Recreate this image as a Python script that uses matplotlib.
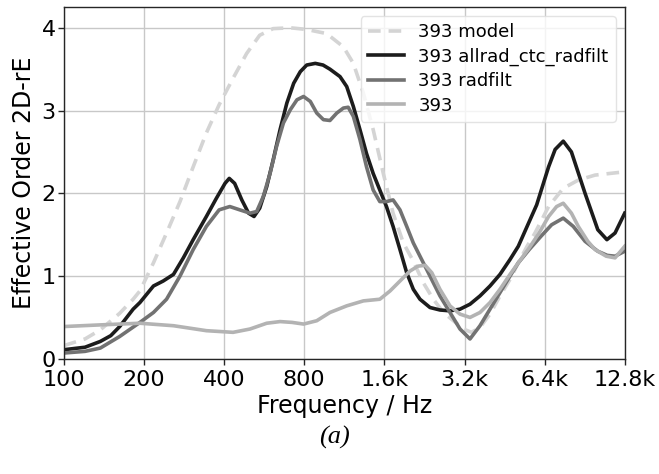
import numpy as np
import matplotlib.pyplot as plt
from matplotlib.ticker import FixedLocator, NullLocator

# values (frequency in Hz, effective order)
model_f = [100, 120, 137, 162, 182, 193, 217, 243, 273, 306, 343, 383, 432, 486,
           544, 611, 709, 817, 971, 1122, 1223, 1334, 1452, 1585, 1725, 1885, 2055,
           2240, 2443, 2666, 2907, 3170, 3400, 3659, 3990, 4350, 4744, 5097, 5500,
           5888, 6624, 7520, 8565, 9900, 12800]
model_v = [0.16, 0.24, 0.35, 0.55, 0.72, 0.82, 1.16, 1.52, 1.90, 2.32, 2.73, 3.07,
           3.39, 3.69, 3.91, 3.99, 4.00, 3.98, 3.93, 3.77, 3.57, 3.21, 2.77, 2.24,
           1.76, 1.40, 1.18, 0.92, 0.72, 0.56, 0.46, 0.36, 0.32, 0.38, 0.54, 0.76,
           0.96, 1.16, 1.36, 1.52, 1.84, 2.06, 2.16, 2.22, 2.26]

ctc_f = [100, 120, 137, 150, 162, 182, 193, 217, 236, 258, 281, 306, 343, 374, 403,
         418, 438, 466, 494, 518, 544, 578, 611, 649, 688, 730, 773, 817, 880, 941,
         999, 1090, 1155, 1223, 1295, 1371, 1452, 1538, 1629, 1725, 1831, 1941,
         2055, 2177, 2374, 2588, 2822, 3078, 3356, 3659, 3990, 4350, 4744, 5097,
         5500, 5974, 6624, 7010, 7520, 8070, 9080, 10140, 10970, 11770, 12800]
ctc_v = [0.11, 0.14, 0.21, 0.28, 0.39, 0.60, 0.68, 0.88, 0.94, 1.02, 1.22, 1.44,
         1.72, 1.94, 2.12, 2.18, 2.12, 1.92, 1.76, 1.72, 1.82, 2.08, 2.40, 2.77,
         3.09, 3.33, 3.47, 3.55, 3.57, 3.55, 3.50, 3.41, 3.29, 3.05, 2.77, 2.48,
         2.24, 2.04, 1.84, 1.60, 1.32, 1.04, 0.84, 0.72, 0.62, 0.59, 0.58, 0.60,
         0.66, 0.76, 0.88, 1.02, 1.20, 1.36, 1.60, 1.86, 2.32, 2.53, 2.63, 2.50,
         2.00, 1.56, 1.44, 1.52, 1.76]

radfilt_f = [100, 120, 137, 162, 193, 217, 243, 273, 306, 343, 383, 420, 458, 500,
             530, 561, 595, 630, 668, 709, 751, 795, 843, 891, 944, 999, 1060, 1122,
             1170, 1223, 1295, 1371, 1452, 1538, 1629, 1725, 1831, 1941, 2055, 2177,
             2307, 2443, 2588, 2822, 3078, 3356, 3659, 3990, 4350, 4744, 5097, 5600,
             6200, 6800, 7520, 8200, 9080, 10140, 11000, 11770, 12800]
radfilt_v = [0.07, 0.09, 0.13, 0.27, 0.44, 0.56, 0.72, 1.00, 1.32, 1.60, 1.80, 1.84,
             1.80, 1.76, 1.78, 1.96, 2.24, 2.57, 2.85, 3.01, 3.13, 3.17, 3.11, 2.97,
             2.89, 2.88, 2.97, 3.03, 3.04, 2.93, 2.65, 2.32, 2.04, 1.90, 1.90, 1.92,
             1.80, 1.60, 1.40, 1.24, 1.08, 0.92, 0.76, 0.56, 0.36, 0.24, 0.40, 0.60,
             0.80, 1.00, 1.16, 1.32, 1.48, 1.62, 1.70, 1.60, 1.42, 1.30, 1.25, 1.24,
             1.30]

raw_f = [100, 137, 193, 258, 343, 432, 500, 578, 649, 720, 795, 891, 999, 1155,
         1334, 1538, 1680, 1831, 1995, 2140, 2277, 2412, 2588, 2822, 3078, 3356,
         3659, 3990, 4350, 4744, 5097, 5600, 6100, 6624, 7100, 7520, 8070, 8565,
         9300, 9900, 10900, 11770, 12800]
raw_v = [0.39, 0.41, 0.43, 0.40, 0.34, 0.32, 0.36, 0.43, 0.45, 0.44, 0.42, 0.46,
         0.56, 0.64, 0.70, 0.72, 0.82, 0.94, 1.06, 1.12, 1.13, 1.04, 0.84, 0.64,
         0.54, 0.50, 0.56, 0.68, 0.84, 1.02, 1.16, 1.34, 1.52, 1.72, 1.84, 1.88,
         1.76, 1.60, 1.42, 1.32, 1.24, 1.22, 1.36]

xticks = [100, 200, 400, 800, 1600, 3200, 6400, 12800]
xticklabels = ['100', '200', '400', '800', '1.6k', '3.2k', '6.4k', '12.8k']

fig = plt.figure(figsize=(6.59, 4.74), dpi=100)
ax = fig.add_axes([0.097, 0.243, 0.851, 0.742])

lw = 2.6
ax.plot(model_f, model_v, color='#d4d4d4', lw=lw, ls=(0, (3.5, 2.2)), label='393 model')
ax.plot(ctc_f, ctc_v, color='#1c1c1c', lw=lw, label='393 allrad_ctc_radfilt')
ax.plot(radfilt_f, radfilt_v, color='#727272', lw=lw, label='393 radfilt')
ax.plot(raw_f, raw_v, color='#b3b3b3', lw=lw, label='393')

ax.set_xscale('log')
ax.set_xlim(100, 12800)
ax.set_ylim(0, 4.25)
ax.xaxis.set_major_locator(FixedLocator(xticks))
ax.xaxis.set_minor_locator(NullLocator())
ax.set_xticklabels(xticklabels)
ax.set_yticks([0, 1, 2, 3, 4])

ax.grid(True, color='#c8c8c8', lw=1.0)
ax.set_axisbelow(True)
for s in ax.spines.values():
    s.set_color('#262626')
    s.set_linewidth(1.0)
ax.tick_params(labelsize=16, length=4, width=1, color='#262626')
ax.tick_params(axis='x', pad=4)
ax.tick_params(axis='y', pad=2)

ax.set_xlabel('Frequency / Hz', fontsize=17, labelpad=3)
ax.set_ylabel('Effective Order 2D-rE', fontsize=17, labelpad=4)

leg = ax.legend(loc='upper right', fontsize=13, framealpha=0.8, edgecolor='#dddddd',
                handlelength=2.0, borderaxespad=0.5, labelspacing=0.35)

fig.text(0.508, 0.078, '(a)', ha='center', va='center', fontsize=19,
         family='Liberation Serif', style='italic')

fig.savefig('out.png', dpi=100)
